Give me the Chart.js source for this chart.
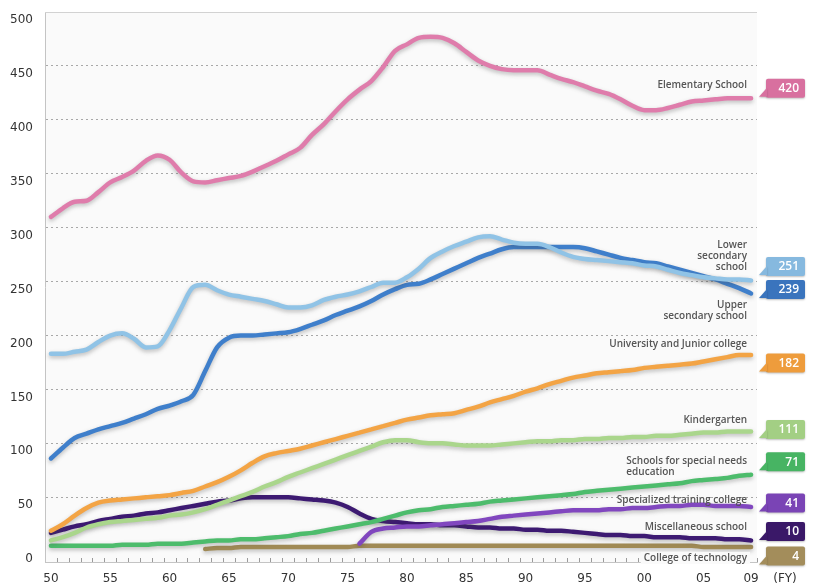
<!DOCTYPE html>
<html>
<head>
<meta charset="utf-8">
<script src="https://cdn.jsdelivr.net/npm/chart.js@4.4.0/dist/chart.umd.min.js"></script>
<style>
  html, body { margin: 0; padding: 0; background: #fff; }
  #wrap { width: 814px; height: 588px; }
</style>
</head>
<body>
<div id="wrap"><canvas id="chart" width="814" height="588"></canvas></div>
<script>
// teachers, thousands, fiscal years 1950-2009
const years = [
  1950, 1951, 1952, 1953, 1954, 1955, 1956, 1957, 1958, 1959,
  1960, 1961, 1962, 1963, 1964, 1965, 1966, 1967, 1968, 1969,
  1970, 1971, 1972, 1973, 1974, 1975, 1976, 1977, 1978, 1979,
  1980, 1981, 1982, 1983, 1984, 1985, 1986, 1987, 1988, 1989,
  1990, 1991, 1992, 1993, 1994, 1995, 1996, 1997, 1998, 1999,
  2000, 2001, 2002, 2003, 2004, 2005, 2006, 2007, 2008, 2009
];
const xTickYears = [1950, 1955, 1960, 1965, 1970, 1975, 1980, 1985, 1990, 1995, 2000, 2005, 2009];
const yTicks = [0, 50, 100, 150, 200, 250, 300, 350, 400, 450, 500];

const elementary = [
  310, 318, 324, 325, 333, 342, 347, 353, 362, 367,
  363, 351, 343, 342, 344, 346, 348, 352, 357, 362,
  368, 374, 386, 396, 408, 419, 428, 436, 449, 464,
  470, 476, 477, 476, 471, 463, 455, 450, 447, 446,
  446, 446, 442, 438, 435, 431, 427, 424, 419, 413,
  409, 409, 411, 414, 417, 418, 419, 420, 420, 420
];
const lowerSecondary = [
  183, 183, 185, 187, 194, 200, 202, 197, 189, 190,
  205, 226, 245, 247, 242, 238, 236, 234, 232, 229,
  226, 226, 228, 233, 236, 238, 241, 245, 249, 249,
  254, 262, 272, 278, 283, 287, 291, 292, 289, 286,
  285, 285, 282, 277, 273, 271, 270, 269, 268, 267,
  265, 264, 261, 258, 256, 254, 253, 252, 252, 251
];
const upperSecondary = [
  86, 96, 105, 109, 113, 116, 119, 123, 127, 132,
  135, 139, 145, 167, 189, 198, 200, 200, 201, 202,
  203, 206, 210, 214, 219, 223, 227, 232, 238, 243,
  247, 248, 252, 257, 262, 267, 272, 276, 280, 282,
  282, 282, 282, 282, 282, 281, 278, 275, 272, 270,
  268, 267, 264, 261, 258, 255, 252, 248, 244, 239
];
const university = [
  19, 25, 33, 40, 45, 47, 48, 49, 50, 51,
  52, 54, 56, 60, 64, 69, 75, 82, 88, 91,
  93, 95, 98, 101, 104, 107, 110, 113, 116, 119,
  122, 124, 126, 127, 128, 131, 134, 138, 141, 144,
  148, 151, 155, 158, 161, 163, 165, 166, 167, 168,
  170, 171, 172, 173, 174, 176, 178, 180, 182, 182
];
const kindergarten = [
  10, 13, 17, 22, 25, 27, 28, 29, 30, 31,
  33, 34, 36, 39, 43, 47, 51, 55, 60, 64,
  69, 73, 77, 81, 85, 89, 93, 97, 101, 103,
  103, 101, 100, 100, 99, 98, 98, 98, 99, 100,
  101, 102, 102, 103, 103, 104, 104, 105, 105, 106,
  106, 107, 107, 108, 109, 110, 110, 111, 111, 111
];
const specialNeeds = [
  5, 5, 5, 5, 5, 5, 6, 6, 6, 7,
  7, 7, 8, 9, 10, 10, 11, 11, 12, 13,
  14, 16, 17, 19, 21, 23, 25, 27, 30, 33,
  36, 38, 39, 41, 42, 43, 44, 46, 47, 48,
  49, 50, 51, 52, 53, 55, 56, 57, 58, 59,
  60, 61, 62, 63, 65, 66, 67, 68, 70, 71
];
const specializedTraining = [
  null, null, null, null, null, null, null, null, null, null,
  null, null, null, null, null, null, null, null, null, null,
  null, null, null, null, null, null, 7, 18, 21, 22,
  23, 23, 24, 25, 26, 27, 28, 30, 32, 33,
  34, 35, 36, 37, 38, 38, 38, 39, 39, 40,
  40, 41, 42, 42, 43, 43, 42, 42, 42, 41
];
const miscellaneous = [
  17, 20, 23, 25, 28, 30, 32, 33, 35, 36,
  38, 40, 42, 44, 46, 47, 49, 50, 50, 50,
  50, 49, 48, 47, 45, 41, 35, 30, 28, 27,
  26, 25, 25, 24, 24, 23, 22, 22, 21, 21,
  20, 20, 19, 19, 18, 17, 16, 15, 15, 14,
  14, 13, 13, 13, 12, 12, 12, 11, 11, 10
];
const collegeTech = [
  null, null, null, null, null, null, null, null, null, null,
  null, null, null, 2, 3, 3, 4, 4, 4, 4,
  4, 4, 4, 4, 4, 4, 5, 5, 5, 5,
  5, 5, 5, 5, 5, 5, 5, 5, 5, 5,
  5, 5, 5, 5, 5, 5, 5, 5, 5, 5,
  5, 5, 5, 5, 5, 4, 4, 4, 4, 4
];

const seriesNames = [
  'Elementary School', 'Lower secondary school', 'Upper secondary school',
  'University and Junior college', 'Kindergarten', 'Schools for special needs education',
  'Specialized training college', 'Miscellaneous school', 'College of technology'
];
const seriesValues = [
  elementary, lowerSecondary, upperSecondary, university, kindergarten,
  specialNeeds, specializedTraining, miscellaneous, collegeTech
];
const lineColors = ['#df7cab', '#90c3e6', '#3f7fcb', '#f3a445', '#aad68c', '#4dbc6c', '#8147bf', '#3d1a72', '#a08a55'];
const boxColors = ['#d8709f', '#86b9df', '#3a74bd', '#ee9c3c', '#a3cf84', '#47b463', '#7a44b5', '#3a1868', '#a38d5b'];

// label text lines, offset of label / callout box from the line end (px)
const notes = [
  { lines: ['Elementary School'], dy: -13, boxDy: -10 },
  { lines: ['Lower', 'secondary', 'school'], dy: -35, boxDy: -14 },
  { lines: ['Upper', 'secondary school'], dy: 12, boxDy: -4 },
  { lines: ['University and Junior college'], dy: -11, boxDy: 8 },
  { lines: ['Kindergarten'], dy: -11, boxDy: -2 },
  { lines: ['Schools for special needs', 'education'], dy: -13, boxDy: -13, block: true },
  { lines: ['Specialized training college'], dy: -7, boxDy: -4 },
  { lines: ['Miscellaneous school'], dy: -13, boxDy: -9 },
  { lines: ['College of technology'], dy: 11, boxDy: 9, bg: true }
];

const tickFont = { family: 'DejaVu Sans', size: 12 };

const framePlugin = {
  id: 'frame',
  beforeDraw(chart) {
    const c = chart.ctx, a = chart.chartArea;
    c.save();
    c.fillStyle = '#ffffff';
    c.fillRect(0, 0, chart.width, chart.height);
    c.fillStyle = '#fafafa';
    c.fillRect(a.left, a.top, a.right - a.left, a.bottom - a.top);
    c.restore();
  },
  beforeDatasetsDraw(chart) {
    const c = chart.ctx, a = chart.chartArea, xs = chart.scales.x;
    c.save();
    c.strokeStyle = '#d2d2d2';
    c.lineWidth = 1;
    c.beginPath();
    c.moveTo(a.left, a.top + 0.5);
    c.lineTo(a.right, a.top + 0.5);
    c.stroke();
    // small year ticks between fiscal years
    c.strokeStyle = '#9a9a9a';
    c.beginPath();
    for (let yr = 1950.5; yr < 2010; yr += 1) {
      const x = Math.round(xs.getPixelForValue(yr)) + 0.5;
      c.moveTo(x, a.bottom - 4);
      c.lineTo(x, a.bottom);
    }
    c.stroke();
    c.restore();
  }
};

const shadowPlugin = {
  id: 'lineShadow',
  beforeDatasetDraw(chart) {
    const c = chart.ctx;
    c.save();
    c.shadowColor = 'rgba(70,70,70,0.35)';
    c.shadowBlur = 4;
    c.shadowOffsetX = 0;
    c.shadowOffsetY = 2;
  },
  afterDatasetDraw(chart) {
    chart.ctx.restore();
  }
};

function roundRect(c, x, y, w, h, r) {
  c.beginPath();
  c.moveTo(x + r, y);
  c.lineTo(x + w - r, y);
  c.quadraticCurveTo(x + w, y, x + w, y + r);
  c.lineTo(x + w, y + h - r);
  c.quadraticCurveTo(x + w, y + h, x + w - r, y + h);
  c.lineTo(x + r, y + h);
  c.quadraticCurveTo(x, y + h, x, y + h - r);
  c.lineTo(x, y + r);
  c.quadraticCurveTo(x, y, x + r, y);
  c.closePath();
}

const labelPlugin = {
  id: 'labels',
  afterDraw(chart) {
    const c = chart.ctx, a = chart.chartArea, ys = chart.scales.y;
    c.save();
    seriesValues.forEach((vals, i) => {
      const last = vals[vals.length - 1];
      const yEnd = ys.getPixelForValue(last);
      const n = notes[i];

      // series name
      c.font = '600 10px "Open Sans"';
      c.fillStyle = '#555';
      c.textBaseline = 'middle';
      const right = a.right - 10;
      let blockLeft = null;
      n.lines.forEach((t, k) => {
        const y = yEnd + n.dy + k * 11;
        if (n.bg) {
          const w = c.measureText(t).width;
          c.fillStyle = '#fafafa';
          c.fillRect(right - w - 3, y - 6, w + 6, 12);
          c.fillStyle = '#555';
        }
        if (n.block) {
          if (blockLeft === null) blockLeft = right - c.measureText(t).width;
          c.textAlign = 'left';
          c.fillText(t, blockLeft, y);
        } else {
          c.textAlign = 'right';
          c.fillText(t, right, y);
        }
      });

      // value callout
      const bw = 39, bh = 19;
      const bx = a.right + 9;
      const by = yEnd + n.boxDy - bh / 2;
      c.shadowColor = 'rgba(0,0,0,0.25)';
      c.shadowBlur = 2;
      c.shadowOffsetY = 1;
      c.fillStyle = boxColors[i];
      roundRect(c, bx, by, bw, bh, 2);
      c.fill();
      c.beginPath();
      c.moveTo(bx + 1, by + bh - 10);
      c.lineTo(bx + 1, by + bh - 1);
      c.lineTo(bx - 7, by + bh - 1);
      c.closePath();
      c.fill();
      c.shadowColor = 'transparent';
      c.font = '600 12px "Open Sans"';
      c.fillStyle = '#ffffff';
      c.textAlign = 'right';
      c.fillText(String(last), bx + bw - 6, by + bh / 2 + 0.5);
    });

    c.font = '12px "DejaVu Sans"';
    c.fillStyle = '#333';
    c.textAlign = 'center';
    c.textBaseline = 'top';
    c.fillText('(FY)', a.right + 28, a.bottom + 11);
    c.restore();
  }
};

const datasets = seriesValues.map((vals, i) => ({
  label: seriesNames[i],
  data: years.map((yr, k) => ({ x: yr, y: vals[k] })),
  borderColor: lineColors[i],
  borderWidth: 4.5,
  cubicInterpolationMode: 'monotone',
  pointRadius: 0,
  spanGaps: false
}));

new Chart(document.getElementById('chart'), {
  type: 'line',
  data: { datasets: datasets },
  options: {
    responsive: false,
    animation: false,
    layout: { padding: { top: 12, right: 57, left: 0, bottom: 0 } },
    plugins: {
      legend: { display: false },
      tooltip: { enabled: false }
    },
    elements: {
      line: { borderCapStyle: 'round', borderJoinStyle: 'round' }
    },
    scales: {
      x: {
        type: 'linear',
        min: 1949.5,
        max: 2009.5,
        afterBuildTicks: s => { s.ticks = xTickYears.map(v => ({ value: v })); },
        afterFit: s => { s.height = 26; s.paddingLeft = 0; s.paddingRight = 0; },
        grid: { display: false, drawTicks: false },
        border: { display: true, color: '#c4c4c4', width: 1 },
        ticks: {
          autoSkip: false,
          maxRotation: 0,
          padding: 10,
          color: '#333',
          font: tickFont,
          callback: v => String(v).slice(2)
        }
      },
      y: {
        min: -10,
        max: 500,
        afterBuildTicks: s => { s.ticks = yTicks.map(v => ({ value: v })); },
        afterFit: s => { s.width = 45; s.paddingTop = 0; s.paddingBottom = 0; },
        grid: {
          drawTicks: false,
          lineWidth: 1,
          color: ctx => (ctx.tick && (ctx.tick.value === 0 || ctx.tick.value === 500)) ? 'rgba(0,0,0,0)' : '#a8a8a8'
        },
        border: { display: true, color: '#c4c4c4', width: 1, dash: [2, 3] },
        ticks: {
          padding: 12,
          labelOffset: 8,
          color: '#333',
          font: tickFont
        }
      }
    }
  },
  plugins: [framePlugin, shadowPlugin, labelPlugin]
});
</script>
</body>
</html>
